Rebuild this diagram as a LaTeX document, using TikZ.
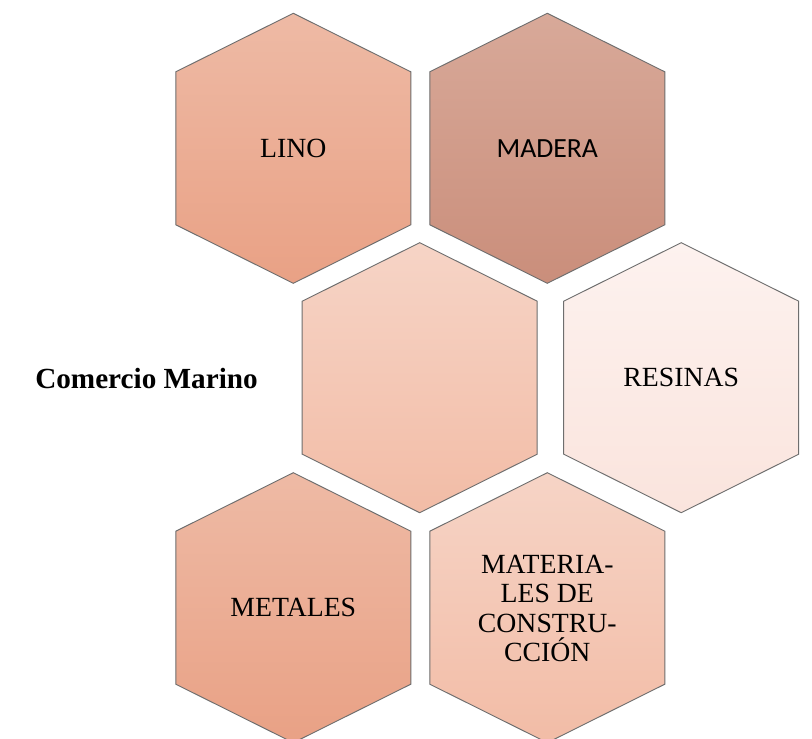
\documentclass[tikz,border=0pt]{standalone}
\usepackage{fontspec}
\setmainfont{Liberation Serif}
\newfontfamily\calibri{Carlito}
\usetikzlibrary{positioning}

\definecolor{linoA}{RGB}{238,186,165}
\definecolor{linoB}{RGB}{233,161,133}
\definecolor{maderaA}{RGB}{216,169,153}
\definecolor{maderaB}{RGB}{202,142,123}
\definecolor{centroA}{RGB}{246,212,198}
\definecolor{centroB}{RGB}{242,188,166}
\definecolor{resinasA}{RGB}{253,242,239}
\definecolor{resinasB}{RGB}{250,228,221}
\definecolor{borde}{RGB}{110,110,110}

% hexagono con punta arriba: centro, color arriba, color abajo
\newcommand{\celda}[3]{%
  \draw[celda, top color=#2, bottom color=#3] ($#1+(0,-135)$) -- ++(117.5,58.5) -- ++(0,153)
    -- ++(-117.5,58.5) -- ++(-117.5,-58.5) -- ++(0,-153) -- cycle;}

\tikzset{
  celda/.style={draw=borde, line width=0.7pt},
  etiqueta/.style={font=\fontsize{20.8}{22}\selectfont, align=center, text=black},
}
\usetikzlibrary{calc}

\begin{document}
\begin{tikzpicture}[x=0.75pt, y=-0.75pt]
\clip (0,0) rectangle (812,738);
\fill[white] (0,0) rectangle (812,738);
% Fila de arriba
\celda{(293.3,148.3)}{linoA}{linoB}
\celda{(547.3,148.3)}{maderaA}{maderaB}
% Fila del medio
\celda{(419.7,377.7)}{centroA}{centroB}
\celda{(681.2,377.7)}{resinasA}{resinasB}
% Fila de abajo
\celda{(293.3,607.7)}{linoA}{linoB}
\celda{(547.3,607.7)}{centroA}{centroB}
% Textos
\node[etiqueta] (lino) at (293.3,148.3) {LINO};
\node[etiqueta, font=\calibri\fontsize{20.8}{22}\selectfont] (madera) at (547.3,148.3) {MADERA};
\node[etiqueta] (resinas) at (681.2,377.7) {RESINAS};
\node[etiqueta] (metales) at (293.3,607.7) {METALES};
\node[etiqueta] (materiales) at (547.3,608.5) {MATERIA-\\LES DE\\CONSTRU-\\CCIÓN};
\node[font=\bfseries\fontsize{21.9}{24}\selectfont] (comercio) at (146.5,378.5) {Comercio Marino};
\end{tikzpicture}
\end{document}
